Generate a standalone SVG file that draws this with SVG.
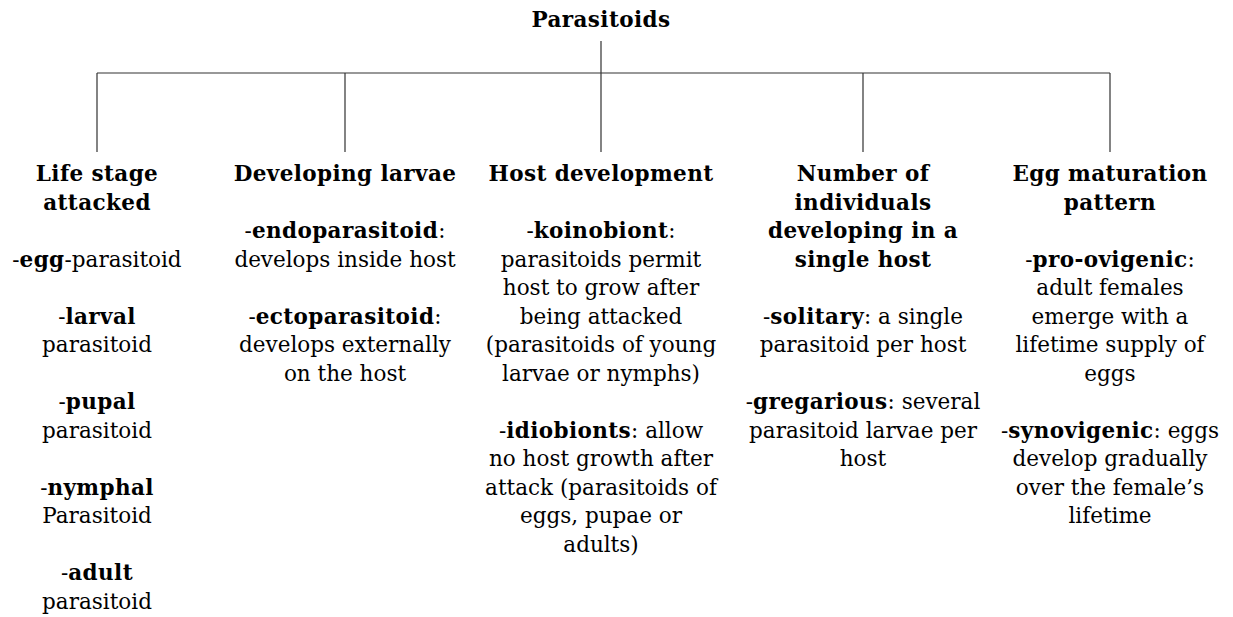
<svg xmlns="http://www.w3.org/2000/svg" width="1233" height="617" viewBox="0 0 1233 617">
<style>
.t{font-family:"DejaVu Serif","Liberation Serif",serif;font-size:21.5px;text-anchor:middle;fill:#000}
.b{font-weight:bold;letter-spacing:0.4px}
.c{stroke:#333;stroke-width:1.2;fill:none}
</style>
<rect width="1233" height="617" fill="#fff"/>
<g id="connectors">
<path class="c" d="M601 41V73M97 73H1110M97 73V152M345 73V152M601 73V152M863 73V152M1110 73V152"/>
</g>
<g id="root"><text class="t b" x="601" y="27">Parasitoids</text></g>
<g id="life-stage">
<text class="t b" x="97" y="181">Life stage</text>
<text class="t b" x="97" y="209.5">attacked</text>
<text class="t" x="97" y="266.5">-<tspan class="b">egg</tspan>-parasitoid</text>
<text class="t" x="97" y="323.5">-<tspan class="b">larval</tspan></text>
<text class="t" x="97" y="352">parasitoid</text>
<text class="t" x="97" y="409">-<tspan class="b">pupal</tspan></text>
<text class="t" x="97" y="437.5">parasitoid</text>
<text class="t" x="97" y="494.5">-<tspan class="b">nymphal</tspan></text>
<text class="t" x="97" y="523">Parasitoid</text>
<text class="t" x="97" y="580">-<tspan class="b">adult</tspan></text>
<text class="t" x="97" y="608.5">parasitoid</text>
</g>
<g id="developing-larvae">
<text class="t b" x="345" y="181">Developing larvae</text>
<text class="t" x="345" y="238">-<tspan class="b">endoparasitoid</tspan>:</text>
<text class="t" x="345" y="266.5">develops inside host</text>
<text class="t" x="345" y="323.5">-<tspan class="b">ectoparasitoid</tspan>:</text>
<text class="t" x="345" y="352">develops externally</text>
<text class="t" x="345" y="380.5">on the host</text>
</g>
<g id="host-development">
<text class="t b" x="601" y="181">Host development</text>
<text class="t" x="601" y="238">-<tspan class="b">koinobiont</tspan>:</text>
<text class="t" x="601" y="266.5">parasitoids permit</text>
<text class="t" x="601" y="295">host to grow after</text>
<text class="t" x="601" y="323.5">being attacked</text>
<text class="t" x="601" y="352">(parasitoids of young</text>
<text class="t" x="601" y="380.5">larvae or nymphs)</text>
<text class="t" x="601" y="437.5">-<tspan class="b">idiobionts</tspan>: allow</text>
<text class="t" x="601" y="466">no host growth after</text>
<text class="t" x="601" y="494.5">attack (parasitoids of</text>
<text class="t" x="601" y="523">eggs, pupae or</text>
<text class="t" x="601" y="551.5">adults)</text>
</g>
<g id="number-individuals">
<text class="t b" x="863" y="181">Number of</text>
<text class="t b" x="863" y="209.5">individuals</text>
<text class="t b" x="863" y="238">developing in a</text>
<text class="t b" x="863" y="266.5">single host</text>
<text class="t" x="863" y="323.5">-<tspan class="b">solitary</tspan>: a single</text>
<text class="t" x="863" y="352">parasitoid per host</text>
<text class="t" x="863" y="409">-<tspan class="b">gregarious</tspan>: several</text>
<text class="t" x="863" y="437.5">parasitoid larvae per</text>
<text class="t" x="863" y="466">host</text>
</g>
<g id="egg-maturation">
<text class="t b" x="1110" y="181">Egg maturation</text>
<text class="t b" x="1110" y="209.5">pattern</text>
<text class="t" x="1110" y="266.5">-<tspan class="b">pro-ovigenic</tspan>:</text>
<text class="t" x="1110" y="295">adult females</text>
<text class="t" x="1110" y="323.5">emerge with a</text>
<text class="t" x="1110" y="352">lifetime supply of</text>
<text class="t" x="1110" y="380.5">eggs</text>
<text class="t" x="1110" y="437.5">-<tspan class="b">synovigenic</tspan>: eggs</text>
<text class="t" x="1110" y="466">develop gradually</text>
<text class="t" x="1110" y="494.5">over the female’s</text>
<text class="t" x="1110" y="523">lifetime</text>
</g>
</svg>
